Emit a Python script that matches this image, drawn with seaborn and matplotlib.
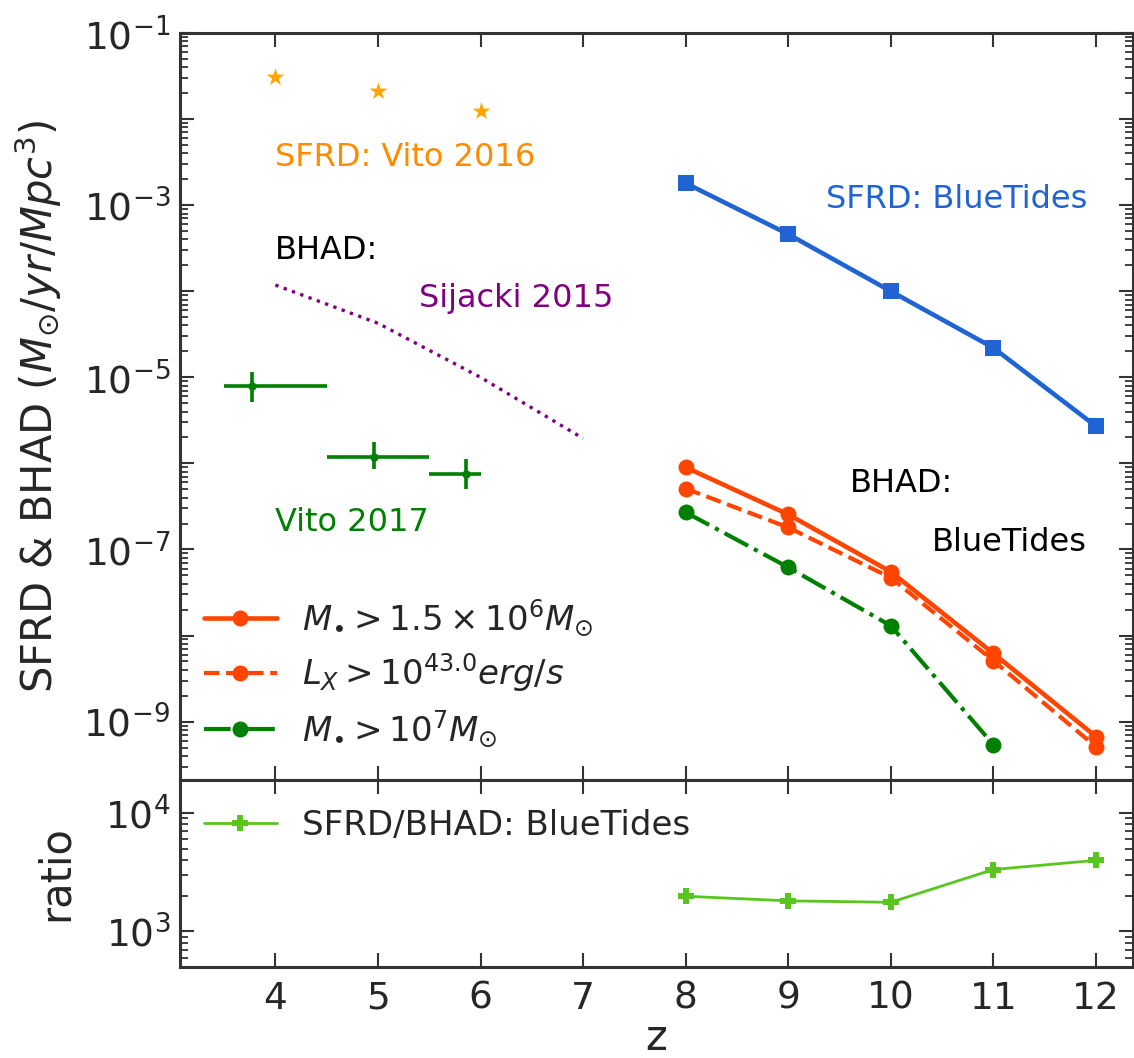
import numpy as np
import pandas as pd
import matplotlib
matplotlib.use("Agg")
import matplotlib.pyplot as plt
from matplotlib.ticker import FixedLocator, FuncFormatter, LogLocator, NullFormatter
import seaborn as sns

# ---------------- data ----------------
z_bt = [8, 9, 10, 11, 12]
sfrd_bt = [1.80e-3, 4.6e-4, 1.0e-4, 2.2e-5, 2.7e-6]
bhad_m15e6 = [9.0e-7, 2.55e-7, 5.5e-8, 6.2e-9, 6.7e-10]
bhad_lx43 = [5.1e-7, 1.8e-7, 4.7e-8, 5.1e-9, 5.1e-10]
z_m1e7 = [8, 9, 10, 11]
bhad_m1e7 = [2.7e-7, 6.2e-8, 1.3e-8, 5.4e-10]
ratio_bt = [1980, 1810, 1760, 3330, 3980]

z_vito16 = [4, 5, 6]
sfrd_vito16 = [0.031, 0.0213, 0.0125]

z_sij = [4, 5, 6, 7]
bhad_sij = [1.18e-4, 4.25e-5, 1.0e-5, 1.95e-6]

z_vito17 = [3.77, 4.96, 5.86]
z_vito17_lo = [3.5, 4.5, 5.5]
z_vito17_hi = [4.5, 5.5, 6.0]
bhad_vito17 = [7.85e-6, 1.18e-6, 7.45e-7]
bhad_vito17_lo = [5.1e-6, 8.5e-7, 5.0e-7]
bhad_vito17_hi = [1.14e-5, 1.77e-6, 1.11e-6]

x_ticks = [4, 5, 6, 7, 8, 9, 10, 11, 12]

# ---------------- style ----------------
sns.set_style("ticks")
plt.rcParams['font.family'] = ['DejaVu Sans']
plt.rcParams['mathtext.fontset'] = 'dejavusans'
dark = '#333333'
plt.rcParams.update({
    'axes.edgecolor': dark, 'axes.linewidth': 2.2,
    'xtick.color': dark, 'ytick.color': dark,
    'xtick.labelcolor': '#262626', 'ytick.labelcolor': '#262626',
})

c_red = '#ff4500'
c_green = '#008000'
c_blue = '#1f64d2'
c_orange_star = '#ffa500'
c_orange_txt = '#ff8c00'
c_purple = '#800080'
c_lime = '#58c61f'

fig = plt.figure(figsize=(11.34, 10.58), dpi=100)
ax = fig.add_axes([0.1587, 0.2628, 0.8403, 0.7060])
ax2 = fig.add_axes([0.1587, 0.0860, 0.8403, 0.1768], sharex=ax)

# ---------------- top panel ----------------
sns.lineplot(x=z_bt, y=sfrd_bt, ax=ax, color=c_blue, lw=3.3, marker='s', markersize=12,
             mec=c_blue, mew=0, sort=False)
sns.lineplot(x=z_bt, y=bhad_m15e6, ax=ax, color=c_red, lw=3.3, marker='o', markersize=11.5,
             mec=c_red, mew=0, sort=False, label=r'$M_{\bullet} > 1.5\times10^6M_{\odot}$')
sns.lineplot(x=z_bt, y=bhad_lx43, ax=ax, color=c_red, lw=3.0, marker='o', markersize=11.5,
             mec=c_red, mew=0, sort=False, linestyle='--', label=r'$L_X > 10^{43.0}erg/s$')
sns.lineplot(x=z_m1e7, y=bhad_m1e7, ax=ax, color=c_green, lw=3.0, marker='o', markersize=11.5,
             mec=c_green, mew=0, sort=False, linestyle='-.', label=r'$M_{\bullet} > 10^7M_{\odot}$')
sns.lineplot(x=z_sij, y=bhad_sij, ax=ax, color=c_purple, lw=2.4, linestyle=':', sort=False)
sns.scatterplot(x=z_vito16, y=sfrd_vito16, ax=ax, color=c_orange_star, marker='*', s=180,
                edgecolor=c_orange_star, linewidth=0)

xv = np.array(z_vito17); yv = np.array(bhad_vito17)
xerr = [xv - np.array(z_vito17_lo), np.array(z_vito17_hi) - xv]
yerr = [yv - np.array(bhad_vito17_lo), np.array(bhad_vito17_hi) - yv]
ax.errorbar(xv, yv, xerr=xerr, yerr=yerr, fmt='o', color=c_green, ms=5,
            elinewidth=2.6, capsize=0, ls='none')

ax.set_yscale('log')
ax.set_xlim(3.07, 12.36)
ax.set_ylim(2.1e-10, 0.1)

ax.text(4.0, 3.6e-3, 'SFRD: Vito 2016', color=c_orange_txt, fontsize=23, ha='left', va='center')
ax.text(4.0, 3.0e-4, 'BHAD:', color='black', fontsize=23, ha='left', va='center')
ax.text(5.40, 8.3e-5, 'Sijacki 2015', color=c_purple, fontsize=23, ha='left', va='center')
ax.text(4.0, 2.06e-7, 'Vito 2017', color=c_green, fontsize=23, ha='left', va='center')
ax.text(9.37, 1.15e-3, 'SFRD: BlueTides', color=c_blue, fontsize=23, ha='left', va='center')
ax.text(9.60, 5.85e-7, 'BHAD:', color='black', fontsize=23, ha='left', va='center')
ax.text(10.40, 1.22e-7, 'BlueTides', color='black', fontsize=23, ha='left', va='center')

handles, labels = ax.get_legend_handles_labels()
keep = [r'$M_{\bullet} > 1.5\times10^6M_{\odot}$', r'$L_X > 10^{43.0}erg/s$', r'$M_{\bullet} > 10^7M_{\odot}$']
hl = [(h, l) for h, l in zip(handles, labels) if l in keep]
ax.legend([h for h, _ in hl], [l for _, l in hl], loc='lower left', bbox_to_anchor=(0.0, 0.01),
          frameon=False, fontsize=24.5, handlelength=2.15, handletextpad=0.75, labelspacing=0.4,
          borderaxespad=0.3)

ymaj = [10.0**e for e in range(-9, 0)]
ax.yaxis.set_major_locator(FixedLocator(ymaj))
ax.yaxis.set_major_formatter(FuncFormatter(
    lambda v, p: (r'$10^{%d}$' % round(np.log10(v))) if round(np.log10(v)) % 2 != 0 else ''))
ax.yaxis.set_minor_locator(LogLocator(base=10, subs=np.arange(2, 10), numticks=30))
ax.yaxis.set_minor_formatter(NullFormatter())
ax.set_ylabel(r'SFRD & BHAD ($M_{\odot}/yr/Mpc^3$)', fontsize=30, labelpad=14)
ax.tick_params(axis='both', which='both', direction='in', top=True, right=True,
               labelbottom=False, labelsize=27)
ax.tick_params(axis='y', which='major', pad=7)
ax.tick_params(which='major', length=10, width=1.5)
ax.tick_params(which='minor', length=5.5, width=1.3)
ax.set_xlabel('')

# ---------------- bottom panel ----------------
sns.lineplot(x=z_bt, y=ratio_bt, ax=ax2, color=c_lime, lw=2.0, marker='P', markersize=12,
             mec=c_lime, mew=0, sort=False, label='SFRD/BHAD: BlueTides')
ax2.set_yscale('log')
ax2.set_ylim(500, 19000)
ax2.yaxis.set_major_locator(FixedLocator([1e3, 1e4]))
ax2.yaxis.set_major_formatter(FuncFormatter(lambda v, p: r'$10^{%d}$' % round(np.log10(v))))
ax2.yaxis.set_minor_locator(LogLocator(base=10, subs=np.arange(2, 10), numticks=30))
ax2.yaxis.set_minor_formatter(NullFormatter())
ax2.set_xticks(x_ticks)
ax2.set_xticklabels([str(t) for t in x_ticks])
ax2.tick_params(axis='both', which='both', direction='in', top=True, right=True, labelsize=27)
ax2.tick_params(which='major', length=10, width=1.5)
ax2.tick_params(which='minor', length=5.5, width=1.3)
ax2.tick_params(axis='x', which='major', pad=10)
ax2.tick_params(axis='y', which='major', pad=7)
ax2.set_xlabel('z', fontsize=30, labelpad=0)
ax2.set_ylabel('ratio', fontsize=30, labelpad=20)
ax2.legend(loc='upper left', frameon=False, fontsize=24.5, handlelength=2.15,
           handletextpad=0.75, borderaxespad=0.3, bbox_to_anchor=(0.0, 0.97))

ax.set_xlim(3.07, 12.36)
fig.savefig('out.png', dpi=100)
